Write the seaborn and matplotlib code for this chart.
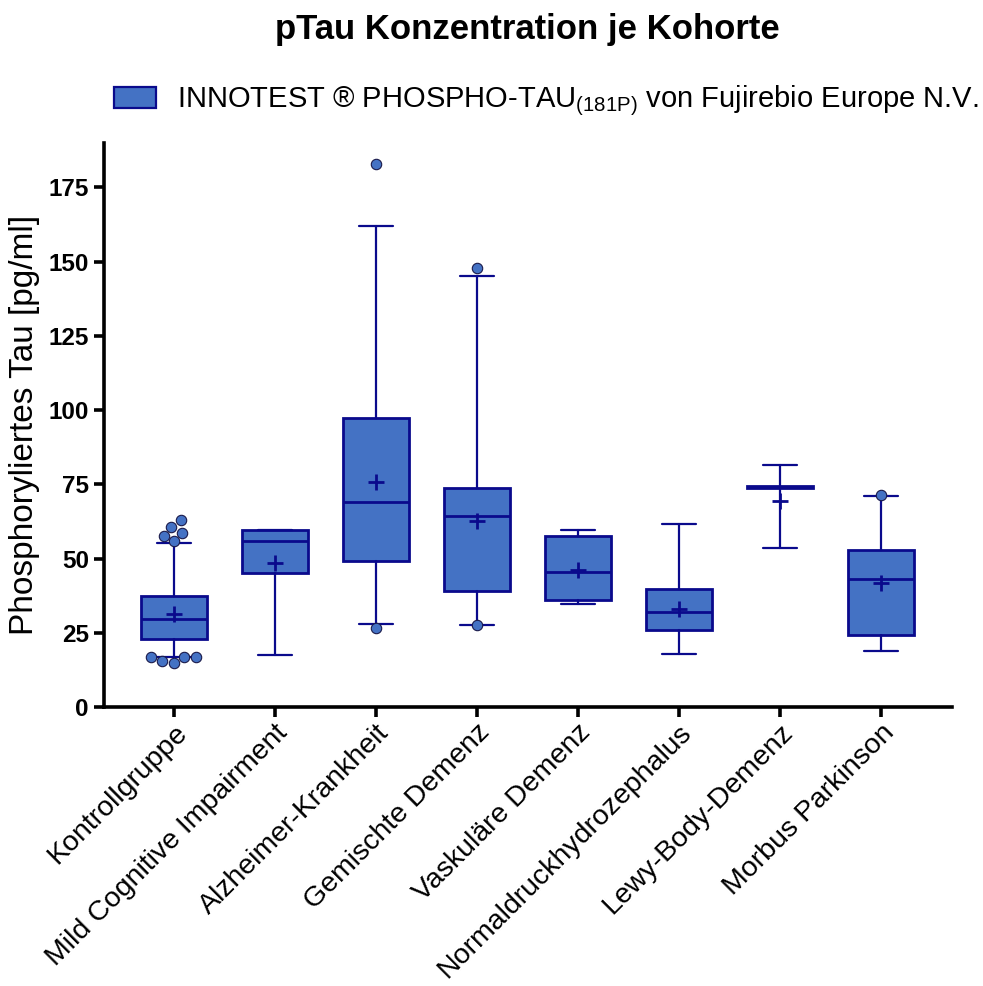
import numpy as np
import pandas as pd
import matplotlib
matplotlib.use("Agg")
import matplotlib.pyplot as plt
from matplotlib.patches import Patch
import seaborn as sns

# Cohorts and per-cohort box statistics (pg/ml)
categories = [
    "Kontrollgruppe",
    "Mild Cognitive Impairment",
    "Alzheimer-Krankheit",
    "Gemischte Demenz",
    "Vaskuläre Demenz",
    "Normaldruckhydrozephalus",
    "Lewy-Body-Demenz",
    "Morbus Parkinson",
]
whisker_low = [16.9, 17.6, 28.1, 27.75, 34.75, 17.8, 53.7, 18.9]
q1 = [22.9, 45.0, 49.1, 39.1, 35.9, 25.9, 73.6, 24.3]
medians = [29.75, 55.75, 68.9, 64.4, 45.4, 31.9, 74.0, 43.2]
q3 = [37.5, 59.5, 97.5, 73.9, 57.5, 39.9, 74.4, 52.8]
whisker_high = [55.25, 59.75, 161.9, 145.1, 59.75, 61.5, 81.5, 71.0]
means = [31.25, 48.5, 75.75, 62.6, 46.25, 33.0, 69.5, 41.7]

# Individual values drawn as single points
outlier_groups = (["Kontrollgruppe"] * 10 + ["Alzheimer-Krankheit"] * 2
                  + ["Gemischte Demenz"] * 2 + ["Morbus Parkinson"])
outlier_values = [62.9, 60.75, 58.75, 57.75, 55.75, 16.9, 16.9, 16.9, 15.6, 14.75,
                  182.9, 26.6,
                  147.9, 27.75,
                  71.5]

legend_label = r"INNOTEST ® PHOSPHO-TAU$_{\mathrm{(181P)}}$ von Fujirebio Europe N.V."
y_ticks = [0, 25, 50, 75, 100, 125, 150, 175]

fill = "#4472C4"
edge = "#0A0A8C"

sns.set_theme(style="ticks")
plt.rcParams["font.family"] = ["Liberation Sans", "DejaVu Sans"]
plt.rcParams["mathtext.fontset"] = "custom"
plt.rcParams["mathtext.rm"] = "Liberation Sans"
plt.rcParams["mathtext.it"] = "Liberation Sans:italic"
plt.rcParams["mathtext.bf"] = "Liberation Sans:bold"
for key in ("text.color", "axes.labelcolor", "xtick.color", "ytick.color",
            "axes.edgecolor"):
    plt.rcParams[key] = "black"

fig = plt.figure(figsize=(9.83, 9.86), dpi=100)
ax = fig.add_axes([0.106, 0.283, 0.862, 0.572])

outliers = pd.DataFrame({"Kohorte": outlier_groups, "Wert": outlier_values})
sns.swarmplot(data=outliers, x="Kohorte", y="Wert", order=categories,
              color=fill, edgecolor="#1a1a4a", linewidth=0.8, size=7.5,
              ax=ax, zorder=5)

stats = []
for i, name in enumerate(categories):
    stats.append({
        "label": name,
        "whislo": whisker_low[i],
        "q1": q1[i],
        "med": medians[i],
        "q3": q3[i],
        "whishi": whisker_high[i],
        "fliers": [],
    })

ax.bxp(stats, positions=np.arange(len(categories)), widths=0.65,
       capwidths=0.33, patch_artist=True, showfliers=False, manage_ticks=False,
       boxprops=dict(facecolor=fill, edgecolor=edge, linewidth=2.0),
       medianprops=dict(color=edge, linewidth=2.0),
       whiskerprops=dict(color=edge, linewidth=1.6),
       capprops=dict(color=edge, linewidth=1.6))

sns.scatterplot(x=np.arange(len(categories)), y=means, marker="+", s=140,
                color=edge, linewidth=2.0, ax=ax, zorder=6)

ax.set_xlim(-0.69, 7.7)
ax.set_ylim(0, 190)
ax.set_yticks(y_ticks)
ax.set_yticklabels([str(t) for t in y_ticks], fontsize=17.5, fontweight="bold")
ax.set_xticks(np.arange(len(categories)))
ax.set_xticklabels(categories, rotation=45, ha="right", rotation_mode="anchor",
                   fontsize=20.5)
ax.set_xlabel("")
ax.set_ylabel("Phosphoryliertes Tau [pg/ml]", fontsize=24, labelpad=6)

for side in ("top", "right"):
    ax.spines[side].set_visible(False)
for side in ("left", "bottom"):
    ax.spines[side].set_linewidth(2.6)
    ax.spines[side].set_color("black")
ax.tick_params(axis="both", which="major", length=7, width=2.6, color="black",
               labelcolor="black", direction="out", pad=4)
ax.tick_params(axis="x", pad=2)

fig.text(0.536, 1 - 30 / 986, "pTau Konzentration je Kohorte",
         ha="center", va="center", fontsize=25, fontweight="bold")

handle = Patch(facecolor=fill, edgecolor=edge, linewidth=1.6)
fig.legend(handles=[handle], labels=[legend_label], loc="center",
           bbox_to_anchor=(546 / 983, 1 - 101 / 986), frameon=False,
           fontsize=21, handlelength=1.45, handleheight=0.7, handletextpad=0.7)

fig.savefig("out.png", dpi=100)
